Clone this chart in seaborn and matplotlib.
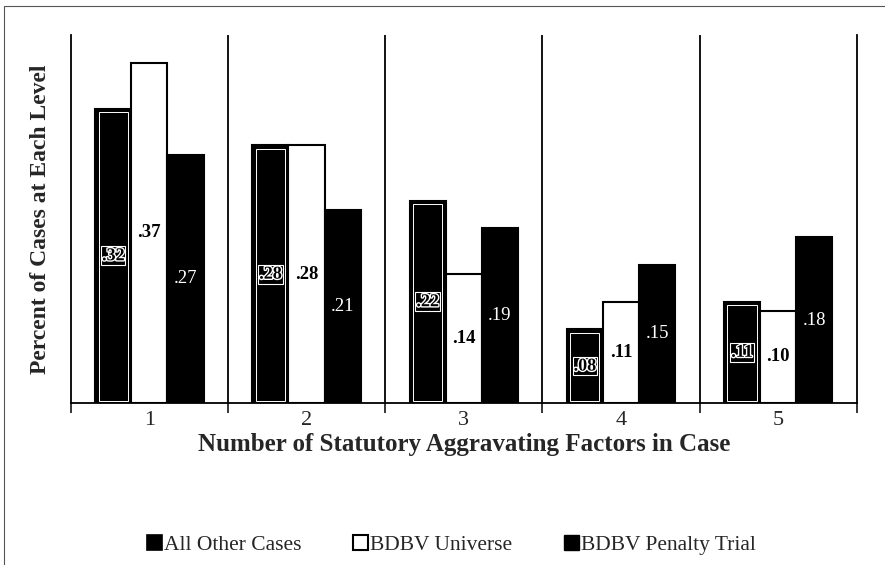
import matplotlib
matplotlib.use("Agg")
import matplotlib.pyplot as plt
import matplotlib.patheffects as pe
from matplotlib.patches import Rectangle
import pandas as pd
import seaborn as sns

# data
factors = ["1", "2", "3", "4", "5"]
series = ["All Other Cases", "BDBV Universe", "BDBV Penalty Trial"]
all_other = [0.32, 0.28, 0.22, 0.08, 0.11]
universe = [0.37, 0.28, 0.14, 0.11, 0.10]
penalty = [0.27, 0.21, 0.19, 0.15, 0.18]

df = pd.DataFrame({
    "factor": factors * 3,
    "series": [s for s in series for _ in factors],
    "value": all_other + universe + penalty,
})

sns.set_style("white")
plt.rcParams['font.family'] = ['Liberation Serif', 'DejaVu Serif']

fig = plt.figure(figsize=(8.85, 5.65), dpi=100)
ax = fig.add_axes([0.080, 0.287, 0.888, 0.651])

palette = {"All Other Cases": "black", "BDBV Universe": "white", "BDBV Penalty Trial": "black"}
sns.barplot(data=df, x="factor", y="value", hue="series", hue_order=series,
            palette=palette, width=0.69, edgecolor="black", linewidth=1.5,
            saturation=1, legend=False, ax=ax)

# thin inner white outline on the "All Other Cases" bars
n = len(factors)
for p in ax.patches[:n]:
    x, w, h = p.get_x(), p.get_width(), p.get_height()
    ax.add_patch(Rectangle((x + 0.022, 0.002), w - 0.044, h - 0.006, fill=False,
                           edgecolor="white", linewidth=0.7, zorder=3))

# value labels in middle of bars
for i, p in enumerate(ax.patches[:3 * n]):
    s = i // n
    xc = p.get_x() + p.get_width() / 2
    v = p.get_height()
    txt = f"{v:.2f}"[1:]
    if s == 0:
        ax.text(xc, v / 2, txt, ha="center", va="center", fontsize=13, fontweight="bold",
                color="black", zorder=4,
                path_effects=[pe.withStroke(linewidth=2, foreground="white")],
                bbox=dict(boxstyle="square,pad=0.05", fc="black", ec="white", lw=0.8))
    elif s == 1:
        ax.text(xc, v / 2, txt, ha="center", va="center", fontsize=13.5,
                fontweight="bold", color="black", zorder=4)
    else:
        ax.text(xc, v / 2, txt, ha="center", va="center", fontsize=13.5,
                color="white", zorder=4)

# group separators
for b in [0.5, 1.5, 2.5, 3.5]:
    ax.axvline(b, color="black", lw=1.3)

ax.set_xlim(-0.5, 4.5)
ax.set_ylim(0, 0.40)
ax.set_yticks([])
ax.set_xticks([-0.5, 0.5, 1.5, 2.5, 3.5, 4.5], minor=True)
ax.tick_params(axis="x", which="minor", length=7, width=1.3, direction="out", bottom=True)
ax.tick_params(axis="x", which="major", length=0, labelsize=16, pad=6)
for side in ["left", "right", "bottom"]:
    ax.spines[side].set_visible(True)
    ax.spines[side].set_color("black")
    ax.spines[side].set_linewidth(1.3)
ax.spines["top"].set_visible(False)

ax.set_xlabel("Number of Statutory Aggravating Factors in Case", fontsize=18,
              fontweight="bold", labelpad=2)
ax.set_ylabel("Percent of Cases at Each Level", fontsize=17, fontweight="bold", labelpad=14)

handles = [Rectangle((0, 0), 1, 1, fc="black", ec="black", lw=1.2),
           Rectangle((0, 0), 1, 1, fc="white", ec="black", lw=1.5),
           Rectangle((0, 0), 1, 1, fc="black", ec="black")]
fig.legend(handles, series, loc="center", bbox_to_anchor=(0.51, 0.036), ncol=3,
           frameon=False, fontsize=15.5, handlelength=0.7, handleheight=0.7,
           handletextpad=0.1, columnspacing=2.4)

# outer frame (page scan border, runs off right/bottom)
fig.add_artist(Rectangle((0.005, -0.02), 1.1, 1.01, transform=fig.transFigure,
                         fill=False, edgecolor="#555555", lw=0.8))

fig.savefig("out.png", dpi=100)
